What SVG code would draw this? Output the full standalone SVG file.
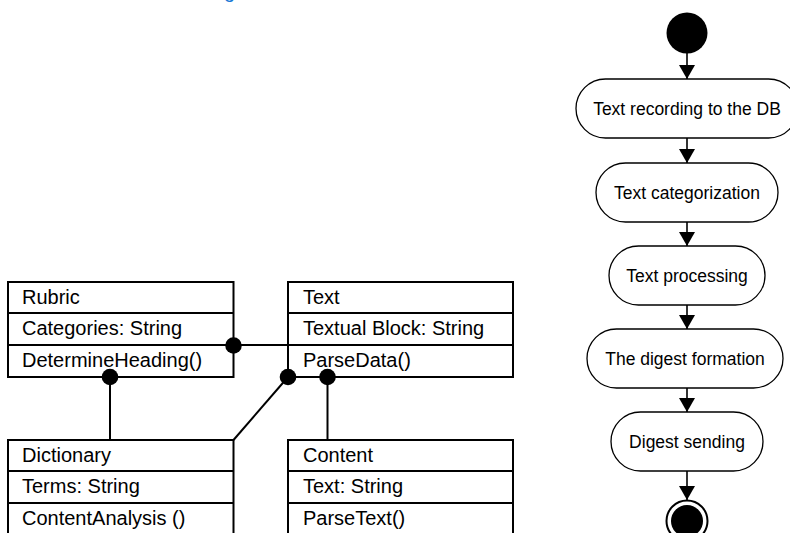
<svg xmlns="http://www.w3.org/2000/svg" width="790" height="533" viewBox="0 0 790 533">
<style>
.box{fill:#fff;stroke:#000;stroke-width:2}
.div{stroke:#000;stroke-width:2}
.ct{font-family:"Liberation Sans",Arial,sans-serif;font-size:20px;fill:#000}
.act{fill:#fff;stroke:#000;stroke-width:1.3}
.at{font-family:"Liberation Sans",Arial,sans-serif;font-size:17.5px;fill:#000;text-anchor:middle}
.con{stroke:#000;stroke-width:2;fill:none}
.flow{stroke:#000;stroke-width:1.6;fill:none;marker-end:url(#arr)}
.dot{fill:#000}
</style>
<defs>
<marker id="arr" markerWidth="16" markerHeight="16" refX="14" refY="8" orient="auto" markerUnits="userSpaceOnUse">
<path d="M0,0 L14,8 L0,16 Z" fill="#000"/>
</marker>
</defs>
<rect width="790" height="533" fill="#fff"/>
<text x="224" y="-2" style="font-family:'Liberation Sans',Arial,sans-serif;font-size:20px;fill:#1a7ad6">g</text>

<g id="rubric">
<rect class="box" x="8" y="282" width="225.5" height="95"/>
<line class="div" x1="8" y1="313" x2="233.5" y2="313"/>
<line class="div" x1="8" y1="345" x2="233.5" y2="345"/>
<text class="ct" x="22" y="304">Rubric</text>
<text class="ct" x="22" y="335">Categories: String</text>
<text class="ct" x="22" y="367">DetermineHeading()</text>
</g>
<g id="text">
<rect class="box" x="288" y="282" width="225" height="95"/>
<line class="div" x1="288" y1="313" x2="513" y2="313"/>
<line class="div" x1="288" y1="345" x2="513" y2="345"/>
<text class="ct" x="303" y="304">Text</text>
<text class="ct" x="303" y="335">Textual Block: String</text>
<text class="ct" x="303" y="367">ParseData()</text>
</g>
<g id="dictionary">
<rect class="box" x="8" y="440" width="225.5" height="100"/>
<line class="div" x1="8" y1="471" x2="233.5" y2="471"/>
<line class="div" x1="8" y1="503" x2="233.5" y2="503"/>
<text class="ct" x="22" y="462">Dictionary</text>
<text class="ct" x="22" y="493">Terms: String</text>
<text class="ct" x="22" y="525">ContentAnalysis ()</text>
</g>
<g id="content">
<rect class="box" x="288" y="440" width="225" height="100"/>
<line class="div" x1="288" y1="471" x2="513" y2="471"/>
<line class="div" x1="288" y1="503" x2="513" y2="503"/>
<text class="ct" x="303" y="462">Content</text>
<text class="ct" x="303" y="493">Text: String</text>
<text class="ct" x="303" y="525">ParseText()</text>
</g>

<g id="start"><circle cx="687" cy="33" r="20.5" fill="#000"/></g>
<g id="a1"><rect class="act" x="576" y="79" width="222" height="59" rx="29.5"/><text class="at" x="687" y="114.5">Text recording to the DB</text></g>
<g id="a2"><rect class="act" x="596" y="163" width="182" height="59" rx="29.5"/><text class="at" x="687" y="198.5">Text categorization</text></g>
<g id="a3"><rect class="act" x="609" y="246" width="156" height="59" rx="29.5"/><text class="at" x="687" y="281.5">Text processing</text></g>
<g id="a4"><rect class="act" x="587" y="329" width="196" height="59" rx="29.5"/><text class="at" x="685" y="364.5">The digest formation</text></g>
<g id="a5"><rect class="act" x="611" y="412" width="152" height="59" rx="29.5"/><text class="at" x="687" y="447.5">Digest sending</text></g>
<g id="end"><circle cx="687" cy="521" r="20.5" fill="#fff" stroke="#000" stroke-width="2"/><circle cx="687" cy="521" r="16" fill="#000"/></g>

<g id="connectors">
<line class="con" x1="233.5" y1="345" x2="288" y2="345"/>
<circle class="dot" cx="233.5" cy="345.5" r="8.3"/>
<line class="con" x1="110" y1="377" x2="110" y2="440"/>
<circle class="dot" cx="110" cy="377" r="8.3"/>
<line class="con" x1="288" y1="377" x2="233.5" y2="440"/>
<circle class="dot" cx="288" cy="377" r="8.3"/>
<line class="con" x1="327.5" y1="377" x2="327.5" y2="440"/>
<circle class="dot" cx="327.5" cy="377" r="8.3"/>
<line class="flow" x1="687" y1="53" x2="687" y2="79"/>
<line class="flow" x1="687" y1="138" x2="687" y2="163"/>
<line class="flow" x1="687" y1="222" x2="687" y2="246"/>
<line class="flow" x1="687" y1="305" x2="687" y2="329"/>
<line class="flow" x1="687" y1="388" x2="687" y2="412"/>
<line class="flow" x1="687" y1="471" x2="687" y2="500"/>
</g>
</svg>
